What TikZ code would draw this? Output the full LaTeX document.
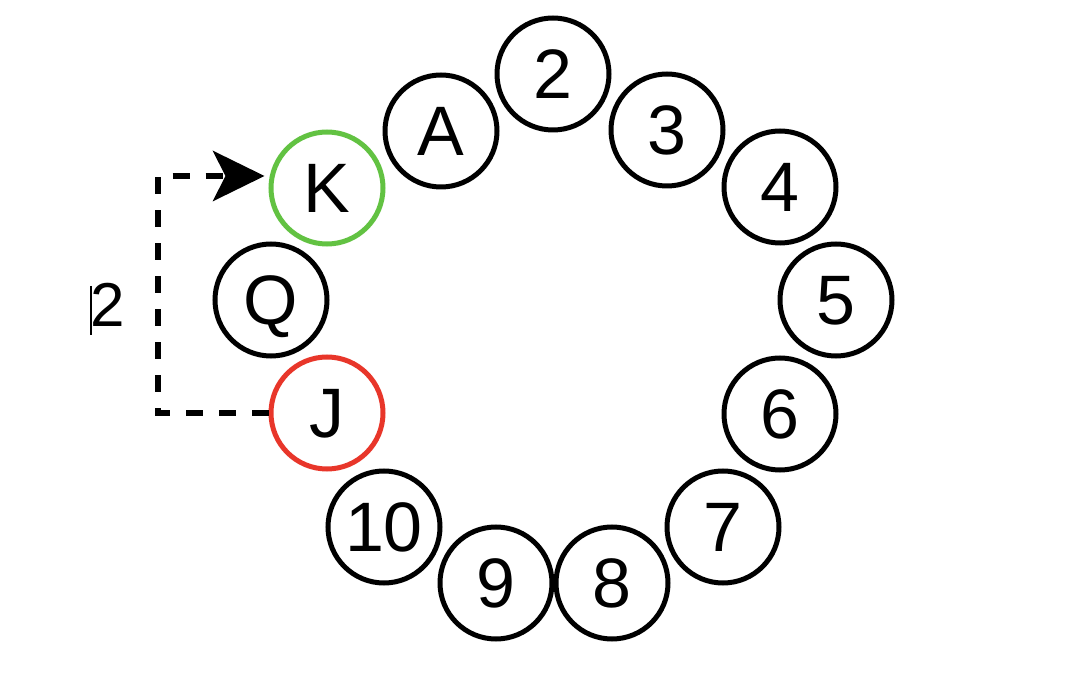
\documentclass[tikz,border=0pt]{standalone}
\usepackage{fontspec}
\setmainfont{Liberation Sans}
\usetikzlibrary{arrows.meta}
\definecolor{ringgreen}{RGB}{98,194,66}
\definecolor{ringred}{RGB}{232,54,42}
\tikzset{
  card/.style={circle, draw=black, line width=5pt, minimum size=112pt, inner sep=0pt,
    font=\fontsize{70pt}{70pt}\selectfont, text height=50pt, text depth=0pt},
  link/.style={line width=6pt, dash pattern=on 17pt off 16pt,
    -{Stealth[length=52pt,width=51pt,inset=13pt,line width=0pt]}},
  lbl/.style={font=\fontsize{62pt}{62pt}\selectfont, inner sep=0pt, text height=44pt, text depth=0pt}
}
\begin{document}
\begin{tikzpicture}[x=1pt,y=-1pt]
\useasboundingbox (0,0) rectangle (1080,692);
\node[card] (n2) at (553,74) {2};
\node[card] (n3) at (667,130) {3};
\node[card] (n4) at (780,187) {4};
\node[card] (n5) at (836,300) {5};
\node[card] (n6) at (780,414) {6};
\node[card] (n7) at (723,527) {7};
\node[card] (n8) at (612,583) {8};
\node[card] (n9) at (496,583) {9};
\node[card] (n10) at (384,527) {10};
\node[card, draw=ringred] (J) at (327,413) {J};
\node[card] (Q) at (271,300) {Q};
\node[card, draw=ringgreen] (K) at (327,188) {K};
\node[card] (A) at (441,131) {A};
\draw[link] (J.west) -- ++(-111,0) |- ([xshift=-4pt,yshift=12pt]K.west);
\node[lbl] (lab) at (108,305) {2};
\draw[line width=1.2pt] (91,286) -- (91,335);
\end{tikzpicture}
\end{document}
